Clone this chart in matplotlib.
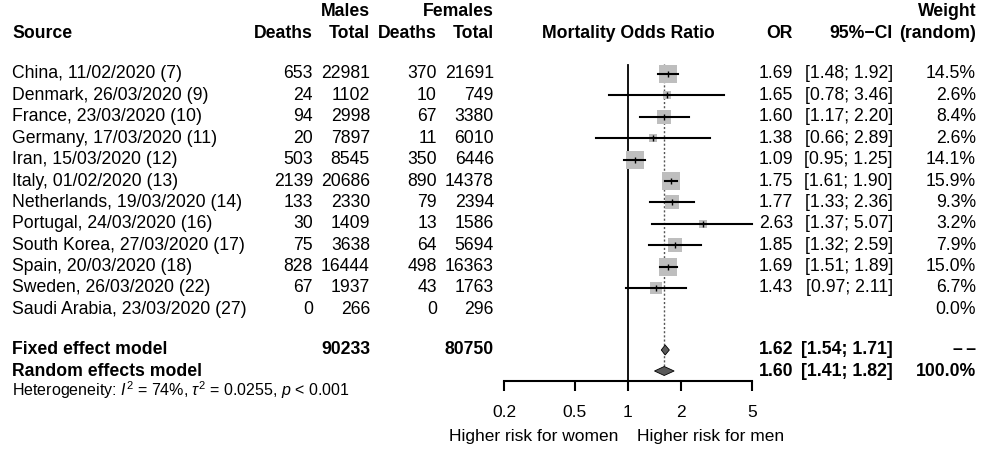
import numpy as np
import matplotlib
matplotlib.use("Agg")
import matplotlib.pyplot as plt
from matplotlib.patches import Polygon

plt.rcParams['font.family'] = ['Liberation Sans', 'DejaVu Sans']
plt.rcParams['mathtext.fontset'] = 'custom'
plt.rcParams['mathtext.rm'] = 'Liberation Sans'
plt.rcParams['mathtext.it'] = 'Liberation Sans:italic'

# ---------------- data ----------------
studies = ["China, 11/02/2020 (7)", "Denmark, 26/03/2020 (9)", "France, 23/03/2020 (10)",
           "Germany, 17/03/2020 (11)", "Iran, 15/03/2020 (12)", "Italy, 01/02/2020 (13)",
           "Netherlands, 19/03/2020 (14)", "Portugal, 24/03/2020 (16)", "South Korea, 27/03/2020 (17)",
           "Spain, 20/03/2020 (18)", "Sweden, 26/03/2020 (22)", "Saudi Arabia, 23/03/2020 (27)"]
male_deaths = [653, 24, 94, 20, 503, 2139, 133, 30, 75, 828, 67, 0]
male_total = [22981, 1102, 2998, 7897, 8545, 20686, 2330, 1409, 3638, 16444, 1937, 266]
female_deaths = [370, 10, 67, 11, 350, 890, 79, 13, 64, 498, 43, 0]
female_total = [21691, 749, 3380, 6010, 6446, 14378, 2394, 1586, 5694, 16363, 1763, 296]
odds_ratio = [1.69, 1.65, 1.60, 1.38, 1.09, 1.75, 1.77, 2.63, 1.85, 1.69, 1.43, None]
ci_low = [1.48, 0.78, 1.17, 0.66, 0.95, 1.61, 1.33, 1.37, 1.32, 1.51, 0.97, None]
ci_high = [1.92, 3.46, 2.20, 2.89, 1.25, 1.90, 2.36, 5.07, 2.59, 1.89, 2.11, None]
weights = [14.5, 2.6, 8.4, 2.6, 14.1, 15.9, 9.3, 3.2, 7.9, 15.0, 6.7, 0.0]

fixed_or, fixed_lo, fixed_hi = 1.62, 1.54, 1.71
random_or, random_lo, random_hi = 1.60, 1.41, 1.82
male_sum, female_sum = 90233, 80750
axis_ticks = [0.2, 0.5, 1, 2, 5]
axis_labels = ["0.2", "0.5", "1", "2", "5"]

# ---------------- layout (pixels) ----------------
W, H = 982, 449
fig = plt.figure(figsize=(W / 100, H / 100), dpi=100)
tx = fig.add_axes([0, 0, 1, 1])
tx.set_xlim(0, W)
tx.set_ylim(H, 0)
tx.axis('off')

FS = 12.7
FS_AX = 12.5
row_y = [74 + 21.4 * i for i in range(len(studies))]
y_fixed, y_random, y_het = 350, 371, 390

ax_top, ax_bot = 62, 381
ax = fig.add_axes([504 / W, (H - ax_bot) / H, 248 / W, (ax_bot - ax_top) / H])
ax.set_xscale('log')
ax.set_xlim(0.2, 5)
ax.set_ylim(ax_bot, ax_top)
for s in ['top', 'right', 'left']:
    ax.spines[s].set_visible(False)
ax.spines['bottom'].set_linewidth(1.5)
ax.set_yticks([])
ax.set_xticks(axis_ticks)
ax.set_xticklabels(axis_labels)
ax.xaxis.set_minor_locator(matplotlib.ticker.NullLocator())
ax.tick_params(axis='x', length=7.5, width=1.5, labelsize=FS_AX, pad=10)
ax.patch.set_visible(False)

# reference line and random-effect line
ax.plot([1, 1], [65, ax_bot], color='black', lw=1.3, zorder=1)
ax.plot([random_or, random_or], [64, y_random - 5], color='#555555', lw=1.0,
        linestyle=(0, (1.5, 1.5)), zorder=1)

k = 4.7  # px per sqrt(weight)
for i in range(len(studies)):
    if odds_ratio[i] is None:
        continue
    y = row_y[i]
    side_pt = k * np.sqrt(weights[i]) * 0.72
    ax.scatter([odds_ratio[i]], [y], marker='s', s=side_pt ** 2, color='#BEBEBE',
               linewidths=0, zorder=2)
    ax.plot([ci_low[i], min(ci_high[i], 5)], [y, y], color='black', lw=1.5, zorder=3,
            clip_on=False)
    ax.plot([odds_ratio[i]], [y], marker='|', markersize=5, mew=1.0, color='black', zorder=4)

def diamond(lo, est, hi, y, h):
    pts = [(lo, y), (est, y - h / 2), (hi, y), (est, y + h / 2)]
    ax.add_patch(Polygon(pts, closed=True, facecolor='#5a5a5a', edgecolor='black',
                         lw=0.6, zorder=4))

diamond(fixed_lo, fixed_or, fixed_hi, y_fixed, 10)
diamond(random_lo, random_or, random_hi, y_random, 9)

# ---------------- text table ----------------
def T(x, y, s, ha='left', bold=False, size=FS, **kw):
    tx.text(x, y, s, ha=ha, va='center', fontsize=size,
            fontweight='bold' if bold else 'normal', **kw)

T(370, 12, "Males", 'right', True)
T(494, 12, "Females", 'right', True)
T(976, 12, "Weight", 'right', True)
T(12, 33, "Source", 'left', True)
T(313, 33, "Deaths", 'right', True)
T(370, 33, "Total", 'right', True)
T(437, 33, "Deaths", 'right', True)
T(494, 33, "Total", 'right', True)
T(628, 33, "Mortality Odds Ratio", 'center', True)
T(793, 33, "OR", 'right', True)
T(893, 33, "95%\u2212CI", 'right', True)
T(976, 33, "(random)", 'right', True)

for i, name in enumerate(studies):
    y = row_y[i]
    T(12, y, name)
    T(313, y, str(male_deaths[i]), 'right')
    T(370, y, str(male_total[i]), 'right')
    T(437, y, str(female_deaths[i]), 'right')
    T(494, y, str(female_total[i]), 'right')
    if odds_ratio[i] is not None:
        T(793, y, f"{odds_ratio[i]:.2f}", 'right')
        T(893, y, f"[{ci_low[i]:.2f}; {ci_high[i]:.2f}]", 'right')
    T(976, y, f"{weights[i]:.1f}%", 'right')

T(12, y_fixed, "Fixed effect model", 'left', True)
T(370, y_fixed, str(male_sum), 'right', True)
T(494, y_fixed, str(female_sum), 'right', True)
T(793, y_fixed, f"{fixed_or:.2f}", 'right', True)
T(893, y_fixed, f"[{fixed_lo:.2f}; {fixed_hi:.2f}]", 'right', True)
T(976, y_fixed, "\u2013\u2009\u2013", 'right', True)

T(12, y_random, "Random effects model", 'left', True)
T(793, y_random, f"{random_or:.2f}", 'right', True)
T(893, y_random, f"[{random_lo:.2f}; {random_hi:.2f}]", 'right', True)
T(976, y_random, "100.0%", 'right', True)

T(12, y_het, r"Heterogeneity: $\mathit{I}^2$ = 74%, $\tau^2$ = 0.0255, $\mathit{p}$ < 0.001",
  'left', False, 11.5)

T(618, 436, "Higher risk for women", 'right', False, FS_AX)
T(637, 436, "Higher risk for men", 'left', False, FS_AX)

fig.savefig("out.png", dpi=100)
